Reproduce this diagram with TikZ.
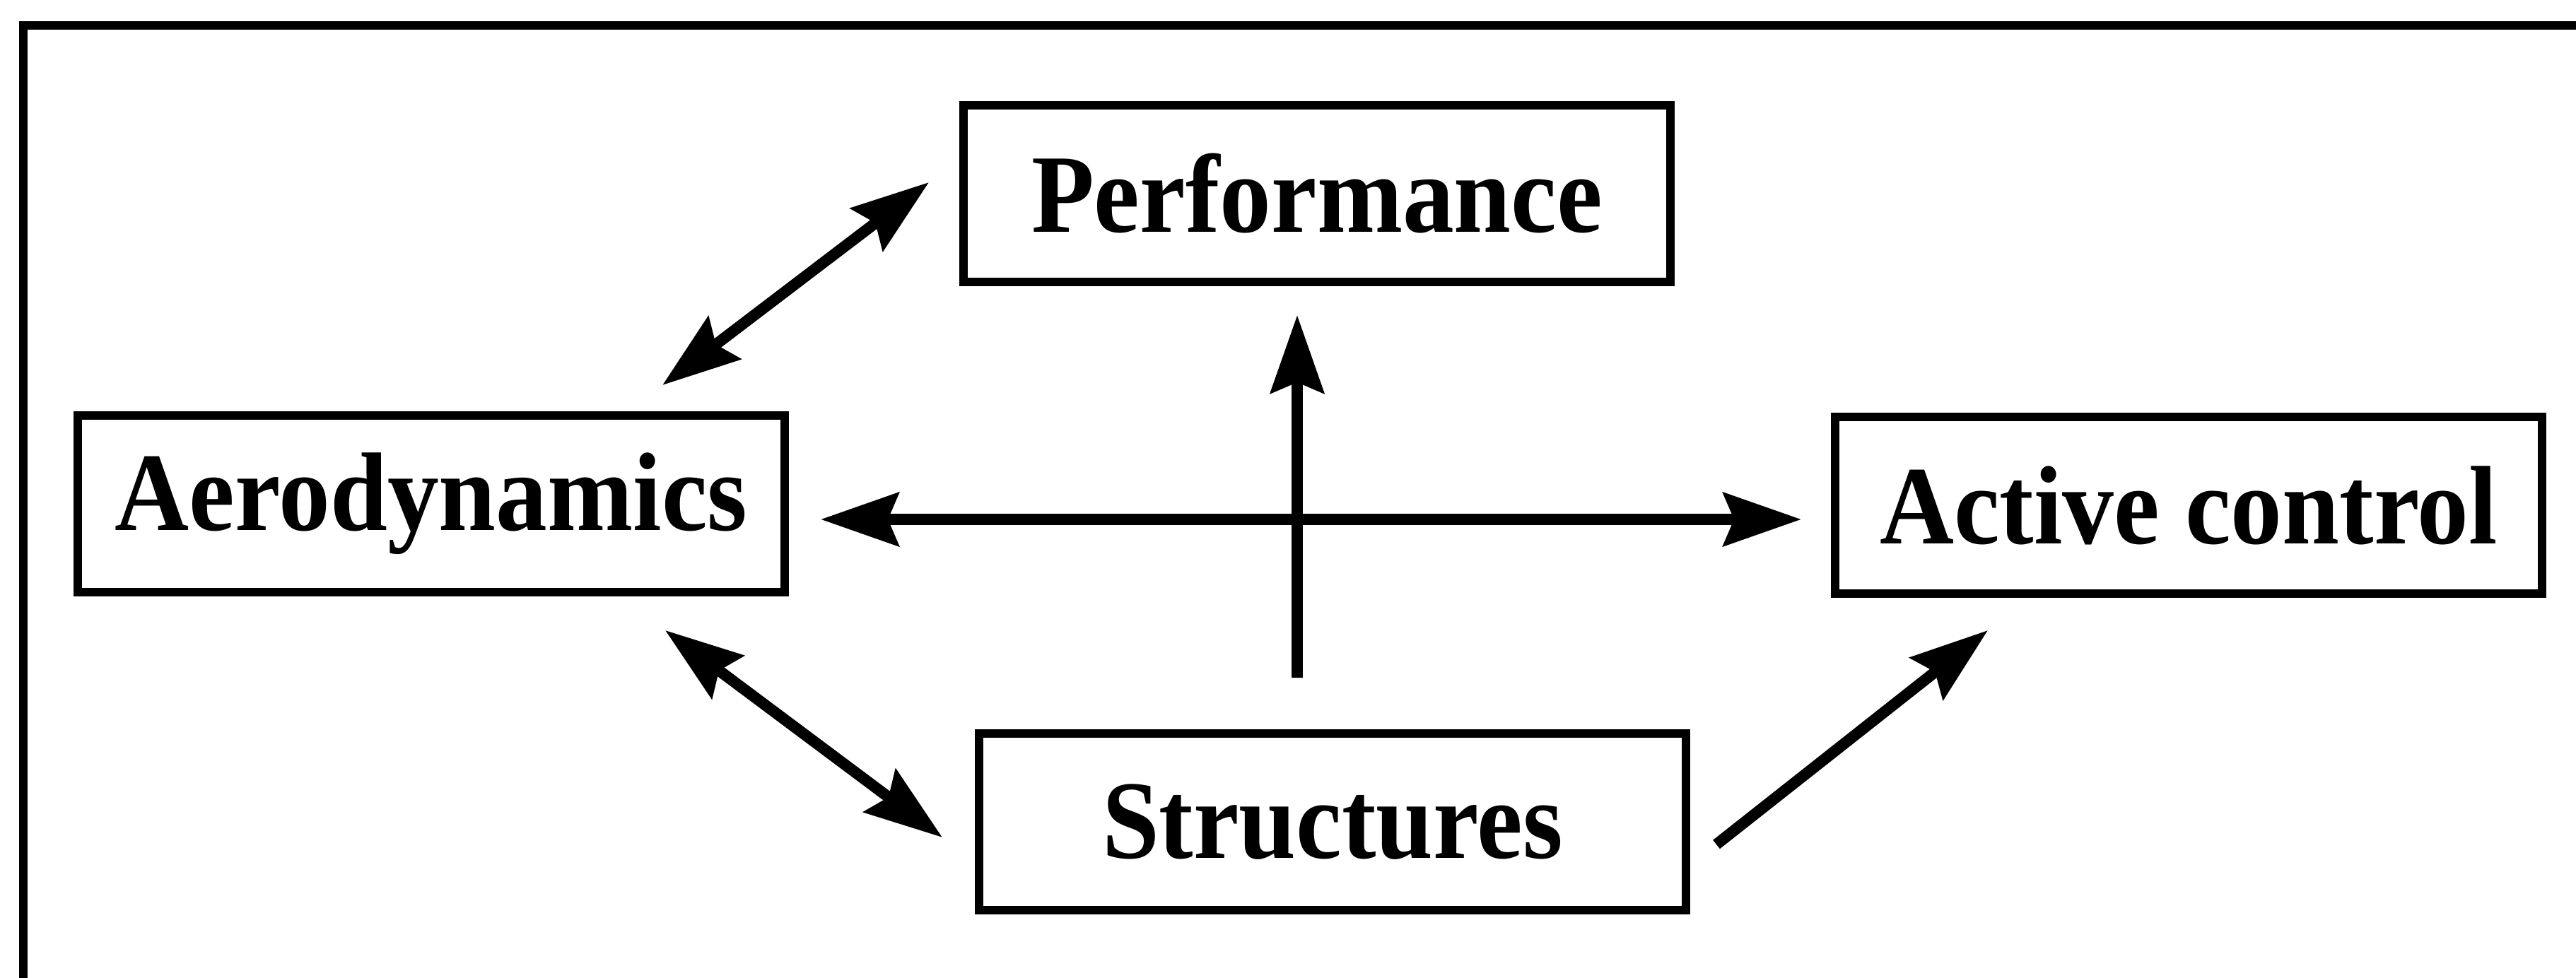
\documentclass[tikz,border=0pt]{standalone}
\usepackage{fontspec}
\setmainfont{Liberation Serif}[FakeStretch=0.92]
\usetikzlibrary{arrows.meta}
\begin{document}
\begin{tikzpicture}[
    box/.style={draw,line width=3.4pt,minimum width=10cm,minimum height=2.5cm,
      font=\fontsize{45}{50}\selectfont\bfseries},
    link/.style={line width=4.5pt,
      >={Stealth[length=1.1cm,width=0.75cm,inset=0.15cm]}}]
  \useasboundingbox (0,0) rectangle (36.44,-13.84);
  \draw[line width=3.4pt] (0.33,-13.84) -- (0.33,-0.36) -- (36.44,-0.36);
  \draw
    (18.63,-2.74) node[box] (perf){Performance}
    (6.10,-7.13) node[box] (aero){Aerodynamics}
    (30.96,-7.15) node[box] (act){Active control}
    (18.85,-11.63) node[box] (struc){Structures};
  \begin{scope}[link]
    \draw[<->] ([xshift=3.27cm,yshift=0.37cm]aero.north) to ([xshift=-0.43cm,yshift=0.16cm]perf.west);
    \draw[<->] ([xshift=0.45cm,yshift=-0.22cm]aero.east) to ([xshift=-0.42cm,yshift=-0.20cm]act.west);
    \draw[->] ([xshift=-0.50cm,yshift=0.73cm]struc.north) to ([xshift=-0.28cm,yshift=-0.41cm]perf.south);
    \draw[<->] ([xshift=3.31cm,yshift=-0.48cm]aero.south) to ([xshift=-0.46cm,yshift=-0.22cm]struc.west);
    \draw[->] ([xshift=0.37cm,yshift=-0.32cm]struc.east) to ([xshift=-2.84cm,yshift=-0.46cm]act.south);
  \end{scope}
\end{tikzpicture}
\end{document}
